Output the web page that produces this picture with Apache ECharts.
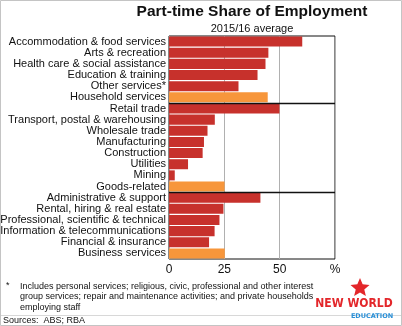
<!DOCTYPE html>
<html>
<head>
<meta charset="utf-8">
<script src="https://cdn.jsdelivr.net/npm/echarts@6/dist/echarts.min.js"></script>
<style>
  html, body { margin: 0; padding: 0; background: #fff; }
  #chart { width: 402px; height: 326px; }
</style>
</head>
<body>
<div id="chart"></div>
<script>
// Industry labels, top to bottom
const categories = [
  'Accommodation & food services', 'Arts & recreation', 'Health care & social assistance',
  'Education & training', 'Other services*', 'Household services',
  'Retail trade', 'Transport, postal & warehousing', 'Wholesale trade', 'Manufacturing',
  'Construction', 'Utilities', 'Mining', 'Goods-related',
  'Administrative & support', 'Rental, hiring & real estate', 'Professional, scientific & technical',
  'Information & telecommunications', 'Financial & insurance', 'Business services'
];
// Part-time share, per cent
const shares = [
  60.2, 44.9, 43.6, 40.0, 31.4, 44.6,
  49.9, 20.7, 17.4, 15.8, 15.2, 8.6, 2.6, 25.1,
  41.3, 24.6, 22.8, 20.6, 18.1, 25.2
];
// Group aggregates are shown in orange
const aggregates = ['Household services', 'Goods-related', 'Business services'];
// Last category of each group (a rule is drawn below it)
const groupEnds = ['Household services', 'Goods-related'];
const xTicks = [0, 25, 50, 75];
const footnote = [
  'Includes personal services; religious, civic, professional and other interest',
  'group services; repair and maintenance activities; and private households',
  'employing staff'
];

const RED = '#c7312c';
const ORANGE = '#f7963b';
const FONT = '"Liberation Sans", Arial, sans-serif';

// Small five-pointed star for the logo
function starPoints(cx, cy, r, r0) {
  const pts = [];
  for (let i = 0; i < 10; i++) {
    const a = -Math.PI / 2 + i * Math.PI / 5;
    const rr = i % 2 ? r0 : r;
    pts.push([cx + rr * Math.cos(a), cy + rr * Math.sin(a)]);
  }
  return pts;
}

const chart = echarts.init(document.getElementById('chart'), null, { renderer: 'canvas' });

const option = {
  animation: false,
  backgroundColor: '#fff',
  grid: {
    left: 169, right: 67, top: 36, bottom: 67,
    outerBoundsMode: 'none', containLabel: false,
    show: true, borderColor: '#111', borderWidth: 1, backgroundColor: 'transparent'
  },
  xAxis: {
    type: 'value', min: xTicks[0], max: xTicks[xTicks.length - 1], interval: 25,
    axisLine: { show: false }, axisTick: { show: false },
    splitLine: { show: true, lineStyle: { color: '#b0b0b0', width: 1 } },
    axisLabel: {
      color: '#111', fontSize: 12, fontFamily: FONT, margin: 5,
      formatter: v => (v === 75 ? '%' : String(v))
    }
  },
  yAxis: {
    type: 'category', data: categories, inverse: true,
    axisLine: { show: false }, axisTick: { show: false },
    axisLabel: { color: '#111', fontSize: 11, fontFamily: FONT, margin: 3, interval: 0 }
  },
  series: [{
    type: 'bar',
    barCategoryGap: '10%',
    data: shares.map((v, i) => ({
      value: v,
      itemStyle: { color: aggregates.includes(categories[i]) ? ORANGE : RED }
    })),
    z: 2
  }],
  graphic: [
    { type: 'rect', shape: { x: 0.5, y: 0.5, width: 401, height: 325 },
      style: { fill: 'none', stroke: '#c4c4c4', lineWidth: 1 }, silent: true },
    { type: 'text', x: 252, y: 4,
      style: { text: 'Part-time Share of Employment', fill: '#111', font: 'bold 15.5px ' + FONT, textAlign: 'center' } },
    { type: 'text', x: 252, y: 23,
      style: { text: '2015/16 average', fill: '#111', font: '11px ' + FONT, textAlign: 'center' } },
    { type: 'text', x: 6, y: 281,
      style: { text: '*', fill: '#111', font: '9px ' + FONT } },
    { type: 'text', x: 20, y: 281,
      style: { text: footnote.join('\n'), fill: '#111', font: '9px ' + FONT, lineHeight: 10.5 } },
    { type: 'line', shape: { x1: 1, y1: 315.5, x2: 401, y2: 315.5 },
      style: { stroke: '#d8d8d8', lineWidth: 1 } },
    { type: 'text', x: 3, y: 316,
      style: { text: 'Sources:  ABS; RBA', fill: '#111', font: '9px ' + FONT } },
    { type: 'polygon', shape: { points: starPoints(360, 288, 10, 4.5) },
      style: { fill: '#e3262a' } },
    { type: 'text', x: 354, y: 298,
      style: { text: 'NEW WORLD', fill: '#e3262a', font: 'bold 12px "DejaVu Sans Condensed", ' + FONT, textAlign: 'center' } },
    { type: 'text', x: 372, y: 313,
      style: { text: 'EDUCATION', fill: '#2a8fd6', font: 'bold 6.5px "DejaVu Sans", ' + FONT, textAlign: 'center' } }
  ]
};

chart.setOption(option);

// Rules between the industry groups, placed on the category band boundaries
const band = chart.convertToPixel({ yAxisIndex: 0 }, categories[1]) - chart.convertToPixel({ yAxisIndex: 0 }, categories[0]);
const left = chart.convertToPixel({ xAxisIndex: 0 }, xTicks[0]);
const right = chart.convertToPixel({ xAxisIndex: 0 }, xTicks[xTicks.length - 1]);
const rules = groupEnds.map(name => {
  const y = Math.round(chart.convertToPixel({ yAxisIndex: 0 }, name) + band / 2) + 0.5;
  return { type: 'line', shape: { x1: left, y1: y, x2: right, y2: y },
           style: { stroke: '#111', lineWidth: 1.5 }, z: 10 };
});
chart.setOption({ graphic: option.graphic.concat(rules) });
</script>
</body>
</html>
